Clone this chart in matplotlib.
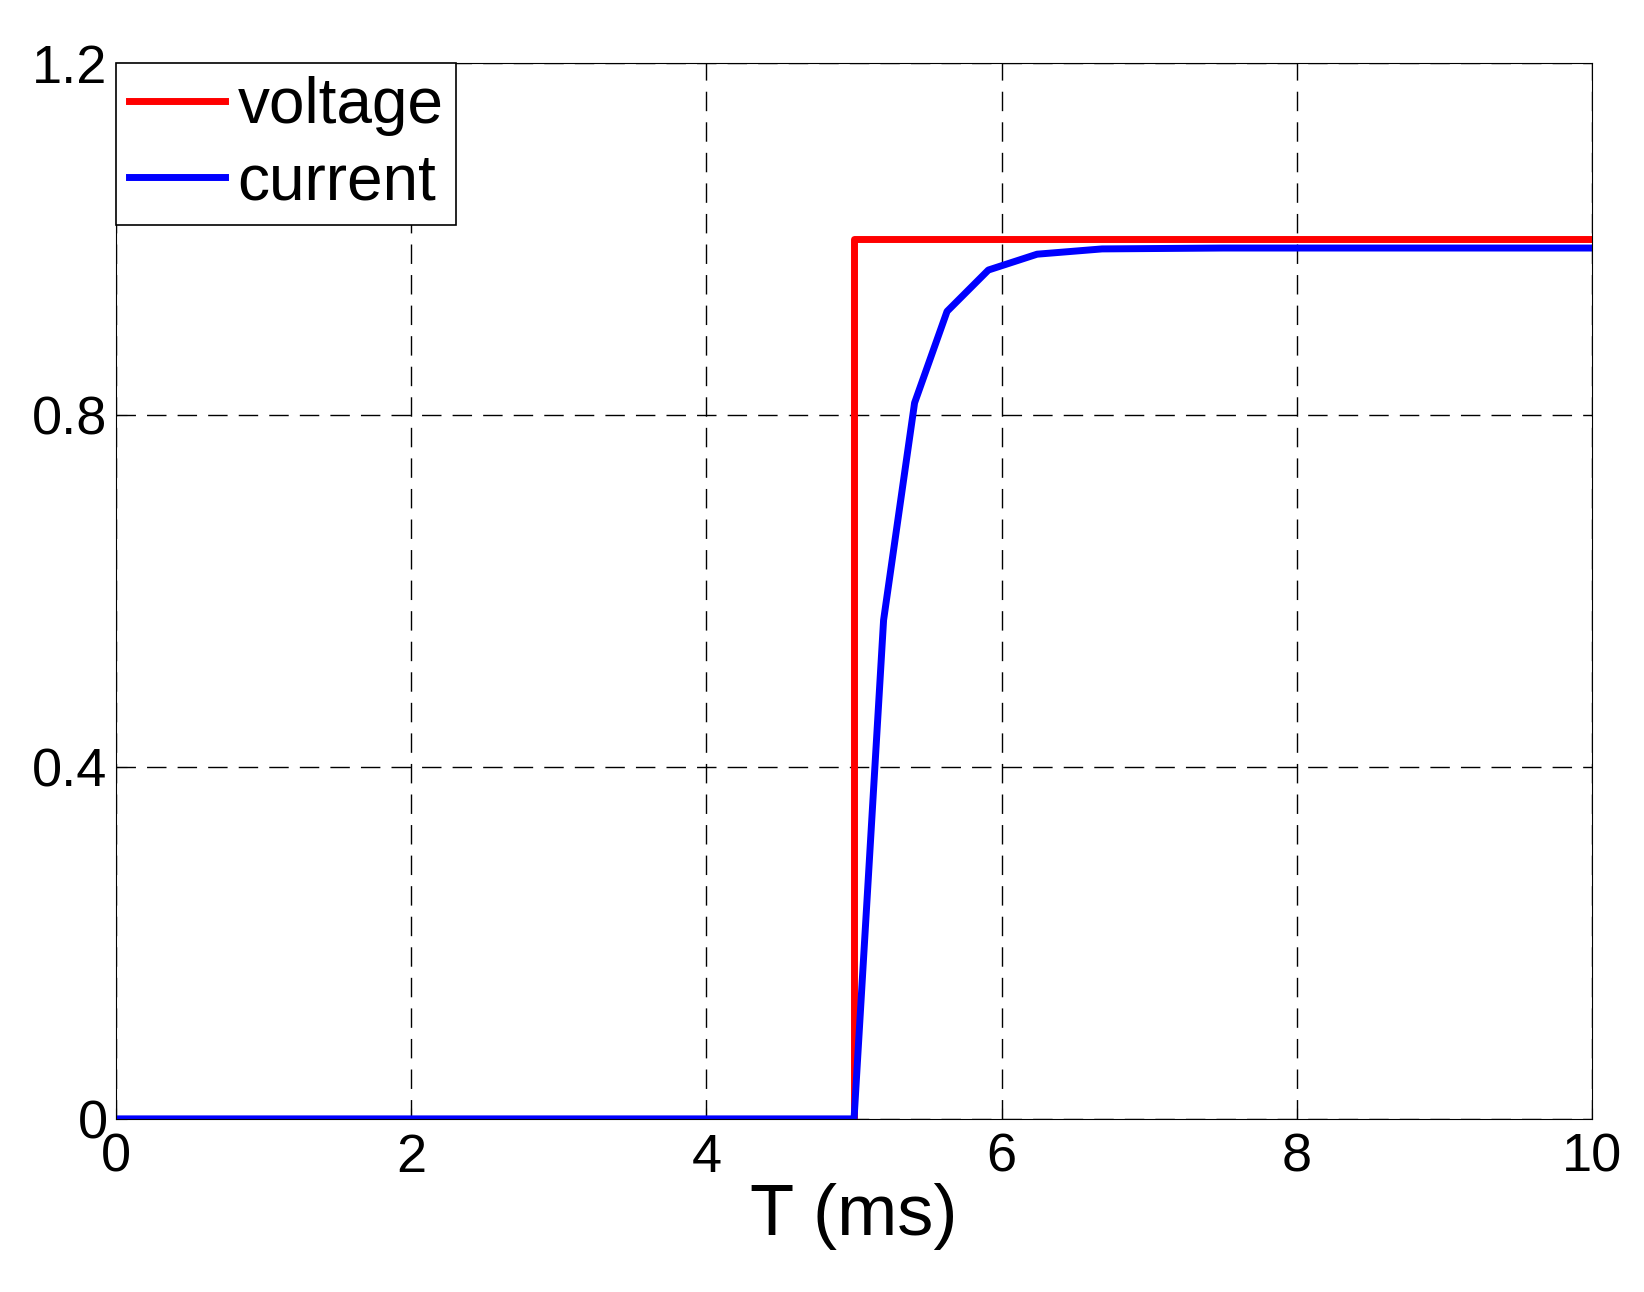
import matplotlib
matplotlib.use('Agg')
import matplotlib.pyplot as plt

plt.rcParams['font.family'] = ['Liberation Sans', 'DejaVu Sans']

# step input and measured response
t_voltage = [0, 5.0, 5.0, 10]
voltage = [0, 0, 1.0, 1.0]
t_current = [0, 5.0, 5.2, 5.41, 5.63, 5.91, 6.24, 6.68, 7.5, 10]
current = [0, 0, 0.567, 0.814, 0.918, 0.965, 0.983, 0.989, 0.99, 0.99]

fig = plt.figure(figsize=(16.44, 12.92), dpi=100)
ax = fig.add_axes([0.0705, 0.134, 0.898, 0.817])

ax.plot(t_voltage, voltage, color='#ff0000', lw=5, label='voltage')
ax.plot(t_current, current, color='#0000ff', lw=5, label='current')

ax.set_xlim(0, 10)
ax.set_ylim(0, 1.2)
ax.set_xticks([0, 2, 4, 6, 8, 10])
ax.set_yticks([0, 0.4, 0.8, 1.2])
ax.set_yticklabels(['0', '0.4', '0.8', '1.2'])
ax.tick_params(labelsize=39, direction='in', length=8)
ax.tick_params(axis='x', pad=10)
ax.tick_params(axis='y', pad=6)
ax.grid(True, color='black', linestyle=(0, (14, 8)), lw=1)
ax.set_xlabel('T (ms)', fontsize=52, labelpad=0)

leg = ax.legend(loc='upper left', fontsize=46, fancybox=False, framealpha=1,
                edgecolor='black', borderaxespad=0, handlelength=1.5,
                handletextpad=0.2, borderpad=0.2, labelspacing=0.25)
leg.get_frame().set_linewidth(1.2)

fig.savefig('out.png')
